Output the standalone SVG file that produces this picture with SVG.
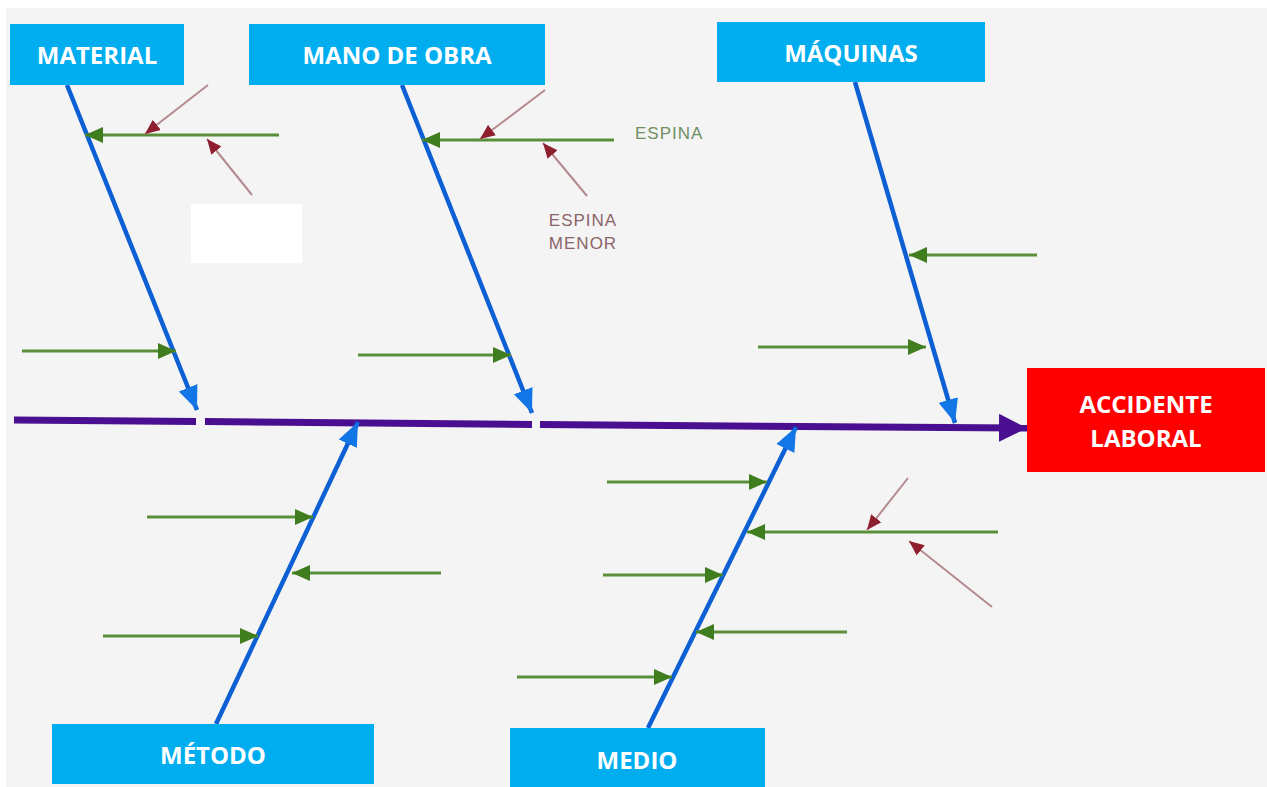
<svg xmlns="http://www.w3.org/2000/svg" width="1267" height="787" viewBox="0 0 1267 787">
<style>
.lbl{font-family:"Open Sans","Liberation Sans",sans-serif;font-weight:700;fill:#ffffff;text-anchor:middle}
.cyan{fill:#00aeef}
.blue{stroke:#0d5fd4;stroke-width:4.5;fill:none}
.green{stroke:#5a8f3a;stroke-width:3;fill:none}
.minor{stroke:#b48a8e;stroke-width:2;fill:none}
.note{font-family:"Liberation Sans",Arial,sans-serif;font-size:17px;letter-spacing:1px}
</style>
<defs>
<marker id="mBlue" markerUnits="userSpaceOnUse" markerWidth="26" markerHeight="22" refX="24" refY="11" orient="auto" viewBox="0 0 26 22"><path d="M0,1 L24,11 L0,21 Z" fill="#1276e6"/></marker>
<marker id="mGreen" markerUnits="userSpaceOnUse" markerWidth="20" markerHeight="18" refX="18" refY="9" orient="auto" viewBox="0 0 20 18"><path d="M0,1 L18,9 L0,17 Z" fill="#3f7d1e"/></marker>
<marker id="mRed" markerUnits="userSpaceOnUse" markerWidth="16" markerHeight="14" refX="15" refY="7" orient="auto" viewBox="0 0 16 14"><path d="M0,0.5 L15,7 L0,13.5 Z" fill="#8e1f2e"/></marker>
<marker id="mPurple" markerUnits="userSpaceOnUse" markerWidth="30" markerHeight="28" refX="28" refY="14" orient="auto" viewBox="0 0 30 28"><path d="M0,0 L28,14 L0,28 Z" fill="#4a0f90"/></marker>
</defs>
<rect x="0" y="0" width="1267" height="787" fill="#ffffff"/>
<rect x="6" y="8" width="1261" height="779" fill="#f4f4f4"/>
<rect x="191" y="204" width="111" height="59" fill="#ffffff"/>

<g id="connectors">
<g stroke="#4a0f90" stroke-width="7" fill="none">
<line x1="14" y1="420" x2="196" y2="421.5"/>
<line x1="205" y1="421.6" x2="532" y2="424.5"/>
<line x1="540" y1="424.6" x2="1027" y2="428" marker-end="url(#mPurple)"/>
</g>
<line class="blue" x1="67" y1="85" x2="197" y2="410" marker-end="url(#mBlue)"/>
<line class="blue" x1="402" y1="85" x2="532" y2="413" marker-end="url(#mBlue)"/>
<line class="blue" x1="855" y1="82" x2="955" y2="423" marker-end="url(#mBlue)"/>
<line class="blue" x1="216" y1="724" x2="358" y2="422" marker-end="url(#mBlue)"/>
<line class="blue" x1="648" y1="728" x2="796" y2="427" marker-end="url(#mBlue)"/>
<line class="green" x1="279" y1="135" x2="85" y2="135" marker-end="url(#mGreen)"/>
<line class="green" x1="22" y1="351" x2="176" y2="351" marker-end="url(#mGreen)"/>
<line class="green" x1="614" y1="140" x2="422" y2="140" marker-end="url(#mGreen)"/>
<line class="green" x1="358" y1="355" x2="511" y2="355" marker-end="url(#mGreen)"/>
<line class="green" x1="1037" y1="255" x2="909" y2="255" marker-end="url(#mGreen)"/>
<line class="green" x1="758" y1="347" x2="926" y2="347" marker-end="url(#mGreen)"/>
<line class="green" x1="147" y1="517" x2="313" y2="517" marker-end="url(#mGreen)"/>
<line class="green" x1="441" y1="573" x2="292" y2="573" marker-end="url(#mGreen)"/>
<line class="green" x1="103" y1="636" x2="258" y2="636" marker-end="url(#mGreen)"/>
<line class="green" x1="607" y1="482" x2="767" y2="482" marker-end="url(#mGreen)"/>
<line class="green" x1="998" y1="532" x2="747" y2="532" marker-end="url(#mGreen)"/>
<line class="green" x1="603" y1="575" x2="723" y2="575" marker-end="url(#mGreen)"/>
<line class="green" x1="847" y1="632" x2="696" y2="632" marker-end="url(#mGreen)"/>
<line class="green" x1="517" y1="677" x2="672" y2="677" marker-end="url(#mGreen)"/>
<line class="minor" x1="208" y1="85" x2="145" y2="134" marker-end="url(#mRed)"/>
<line class="minor" x1="252" y1="195" x2="207" y2="139" marker-end="url(#mRed)"/>
<line class="minor" x1="545" y1="90" x2="480" y2="139" marker-end="url(#mRed)"/>
<line class="minor" x1="587" y1="196" x2="543" y2="143" marker-end="url(#mRed)"/>
<line class="minor" x1="908" y1="478" x2="867" y2="530" marker-end="url(#mRed)"/>
<line class="minor" x1="992" y1="607" x2="909" y2="541" marker-end="url(#mRed)"/>
</g>

<g id="notes">
<text class="note" x="635" y="139" fill="#6f8f63">ESPINA</text>
<text class="note" x="583" y="226" fill="#8a6468" text-anchor="middle">ESPINA</text>
<text class="note" x="583" y="249" fill="#8a6468" text-anchor="middle">MENOR</text>
</g>

<g id="material">
<rect class="cyan" x="10" y="24" width="174" height="61"/>
<text class="lbl" x="97" y="64" font-size="24">MATERIAL</text>
</g>
<g id="mano-de-obra">
<rect class="cyan" x="249" y="24" width="296" height="61"/>
<text class="lbl" x="397" y="64" font-size="24">MANO DE OBRA</text>
</g>
<g id="maquinas">
<rect class="cyan" x="717" y="22" width="268" height="60"/>
<text class="lbl" x="851" y="62" font-size="24">MÁQUINAS</text>
</g>
<g id="accidente">
<rect x="1027" y="368" width="238" height="104" fill="#ff0000"/>
<text class="lbl" x="1146" y="413" font-size="24">ACCIDENTE</text>
<text class="lbl" x="1146" y="447" font-size="24">LABORAL</text>
</g>
<g id="metodo">
<rect class="cyan" x="52" y="724" width="322" height="60"/>
<text class="lbl" x="213" y="764" font-size="24">MÉTODO</text>
</g>
<g id="medio">
<rect class="cyan" x="510" y="728" width="255" height="59"/>
<text class="lbl" x="637" y="769" font-size="24">MEDIO</text>
</g>
</svg>
